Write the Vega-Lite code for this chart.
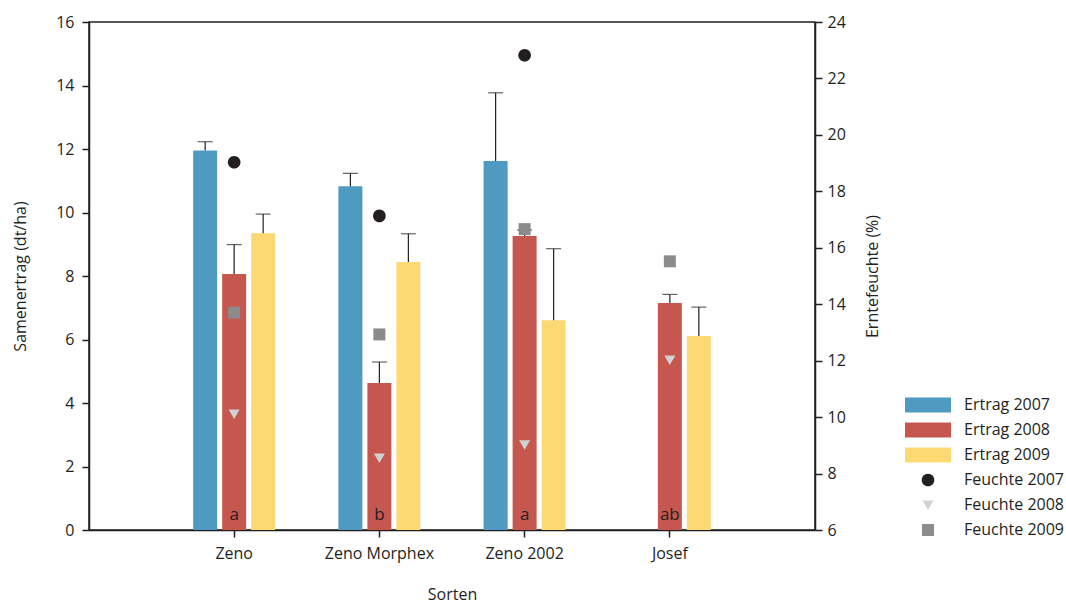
{
  "$schema": "https://vega.github.io/schema/vega-lite/v6.json",
  "width": 726,
  "height": 508,
  "autosize": {"type": "none"},
  "padding": {"left": 89, "top": 22, "right": 251, "bottom": 73},
  "background": "white",
  "config": {
    "font": "Open Sans",
    "view": {"stroke": "#231f20", "strokeWidth": 1.5},
    "axis": {
      "labelFont": "Open Sans", "labelFontSize": 16, "labelColor": "#231f20",
      "titleFont": "Open Sans", "titleFontSize": 16, "titleFontWeight": "normal", "titleColor": "#231f20",
      "domainColor": "#231f20", "domainWidth": 1.5, "tickColor": "#231f20", "tickWidth": 1.5, "tickSize": 7, "grid": false
    },
    "legend": {"labelFont": "Open Sans", "labelFontSize": 16, "labelColor": "#231f20"}
  },
  "datasets": {
    "ertrag": [
      {"Sorte": "Zeno", "Jahr": "2007", "Serie": "Ertrag 2007", "Ertrag": 11.95, "Fehler": 12.23},
      {"Sorte": "Zeno", "Jahr": "2008", "Serie": "Ertrag 2008", "Ertrag": 8.06, "Fehler": 8.99},
      {"Sorte": "Zeno", "Jahr": "2009", "Serie": "Ertrag 2009", "Ertrag": 9.35, "Fehler": 9.95},
      {"Sorte": "Zeno Morphex", "Jahr": "2007", "Serie": "Ertrag 2007", "Ertrag": 10.83, "Fehler": 11.23},
      {"Sorte": "Zeno Morphex", "Jahr": "2008", "Serie": "Ertrag 2008", "Ertrag": 4.63, "Fehler": 5.29},
      {"Sorte": "Zeno Morphex", "Jahr": "2009", "Serie": "Ertrag 2009", "Ertrag": 8.44, "Fehler": 9.33},
      {"Sorte": "Zeno 2002", "Jahr": "2007", "Serie": "Ertrag 2007", "Ertrag": 11.62, "Fehler": 13.77},
      {"Sorte": "Zeno 2002", "Jahr": "2008", "Serie": "Ertrag 2008", "Ertrag": 9.26, "Fehler": 9.45},
      {"Sorte": "Zeno 2002", "Jahr": "2009", "Serie": "Ertrag 2009", "Ertrag": 6.61, "Fehler": 8.86},
      {"Sorte": "Josef", "Jahr": "2008", "Serie": "Ertrag 2008", "Ertrag": 7.15, "Fehler": 7.42},
      {"Sorte": "Josef", "Jahr": "2009", "Serie": "Ertrag 2009", "Ertrag": 6.11, "Fehler": 7.02}
    ],
    "feuchte": [
      {"Sorte": "Zeno", "Serie": "Feuchte 2007", "Feuchte": 19.03},
      {"Sorte": "Zeno", "Serie": "Feuchte 2008", "Feuchte": 10.11},
      {"Sorte": "Zeno", "Serie": "Feuchte 2009", "Feuchte": 13.70},
      {"Sorte": "Zeno Morphex", "Serie": "Feuchte 2007", "Feuchte": 17.13},
      {"Sorte": "Zeno Morphex", "Serie": "Feuchte 2008", "Feuchte": 8.55},
      {"Sorte": "Zeno Morphex", "Serie": "Feuchte 2009", "Feuchte": 12.93},
      {"Sorte": "Zeno 2002", "Serie": "Feuchte 2007", "Feuchte": 22.82},
      {"Sorte": "Zeno 2002", "Serie": "Feuchte 2008", "Feuchte": 9.02},
      {"Sorte": "Zeno 2002", "Serie": "Feuchte 2009", "Feuchte": 16.66},
      {"Sorte": "Josef", "Serie": "Feuchte 2008", "Feuchte": 12.02},
      {"Sorte": "Josef", "Serie": "Feuchte 2009", "Feuchte": 15.52}
    ],
    "sig": [
      {"Sorte": "Zeno", "Buchstabe": "a"},
      {"Sorte": "Zeno Morphex", "Buchstabe": "b"},
      {"Sorte": "Zeno 2002", "Buchstabe": "a"},
      {"Sorte": "Josef", "Buchstabe": "ab"}
    ]
  },
  "layer": [
    {
      "layer": [
        {
          "data": {"name": "ertrag"},
          "mark": {"type": "bar"},
          "encoding": {
            "x": {"field": "Sorte", "type": "nominal",
              "scale": {"domain": ["Zeno", "Zeno Morphex", "Zeno 2002", "Josef"], "paddingInner": 0.401, "paddingOuter": 0.7},
              "axis": {"title": "Sorten", "labelAngle": 0, "labelPadding": 8, "titlePadding": 25}},
            "xOffset": {"field": "Jahr", "type": "nominal", "scale": {"domain": ["2007", "2008", "2009"], "paddingInner": 0.172, "paddingOuter": 0.086}},
            "y": {"field": "Ertrag", "type": "quantitative",
              "scale": {"domain": [0, 16], "nice": false},
              "axis": {"title": "Samenertrag (dt/ha)", "values": [0, 2, 4, 6, 8, 10, 12, 14, 16], "labelPadding": 8, "titleX": -69, "titleY": 254, "titleAngle": 270, "titleBaseline": "middle", "titleAlign": "center"}},
            "color": {"field": "Serie", "type": "nominal",
              "scale": {
                "domain": ["Ertrag 2007", "Ertrag 2008", "Ertrag 2009", "Feuchte 2007", "Feuchte 2008", "Feuchte 2009"],
                "range": ["#4f9ac1", "#c5574f", "#fdd974", "#231f20", "#d1d2d4", "#8b8b8e"]},
              "legend": {"title": null, "orient": "none", "legendX": 829, "legendY": 373, "symbolSize": 400, "labelOffset": 26, "rowPadding": 7, "symbolStrokeWidth": 0, "symbolOpacity": 1, "labelLimit": 300}}
          }
        },
        {
          "data": {"name": "ertrag"},
          "mark": {"type": "rule", "color": "#231f20", "strokeWidth": 1.2},
          "encoding": {
            "x": {"field": "Sorte", "type": "nominal"},
            "xOffset": {"field": "Jahr", "type": "nominal"},
            "y": {"field": "Ertrag", "type": "quantitative"},
            "y2": {"field": "Fehler"}
          }
        },
        {
          "data": {"name": "ertrag"},
          "mark": {"type": "tick", "color": "#231f20", "thickness": 1.2, "size": 15, "orient": "horizontal"},
          "encoding": {
            "x": {"field": "Sorte", "type": "nominal"},
            "xOffset": {"field": "Jahr", "type": "nominal"},
            "y": {"field": "Fehler", "type": "quantitative"}
          }
        },
        {
          "data": {"name": "sig"},
          "mark": {"type": "text", "fontSize": 17, "color": "#231f20", "baseline": "alphabetic", "dy": -10},
          "encoding": {
            "x": {"field": "Sorte", "type": "nominal"},
            "y": {"datum": 0, "type": "quantitative"},
            "text": {"field": "Buchstabe"}
          }
        }
      ]
    },
    {
      "data": {"name": "feuchte"},
      "mark": {"type": "point", "filled": true, "opacity": 1, "size": 400, "strokeWidth": 0},
      "encoding": {
        "x": {"field": "Sorte", "type": "nominal"},
        "y": {"field": "Feuchte", "type": "quantitative",
          "scale": {"domain": [6, 24], "nice": false},
          "axis": {"orient": "right", "title": "Erntefeuchte (%)", "values": [6, 8, 10, 12, 14, 16, 18, 20, 22, 24], "labelPadding": 5, "titleX": 57, "titleY": 254, "titleAngle": 270, "titleBaseline": "middle", "titleAlign": "center"}},
        "color": {"field": "Serie", "type": "nominal",
          "legend": {"title": null, "orient": "none", "legendX": 829, "legendY": 373, "symbolSize": 400, "labelOffset": 26, "rowPadding": 7, "symbolStrokeWidth": 0, "symbolOpacity": 1, "labelLimit": 300}},
        "shape": {"field": "Serie", "type": "nominal",
          "scale": {
            "domain": ["Ertrag 2007", "Ertrag 2008", "Ertrag 2009", "Feuchte 2007", "Feuchte 2008", "Feuchte 2009"],
            "range": ["M-2.3,-0.75H2.3V0.75H-2.3Z", "M-2.3,-0.75H2.3V0.75H-2.3Z", "M-2.3,-0.75H2.3V0.75H-2.3Z", "M0.63,0A0.63,0.63,0,1,1,-0.63,0A0.63,0.63,0,1,1,0.63,0Z", "M-0.55,-0.45L0.55,-0.45L0,0.5Z", "M-0.6,-0.6H0.6V0.6H-0.6Z"]},
          "legend": {"title": null, "orient": "none", "legendX": 829, "legendY": 373, "symbolSize": 400, "labelOffset": 26, "rowPadding": 7, "symbolStrokeWidth": 0, "symbolOpacity": 1, "labelLimit": 300}}
      }
    }
  ],
  "resolve": {"scale": {"y": "independent"}}
}
